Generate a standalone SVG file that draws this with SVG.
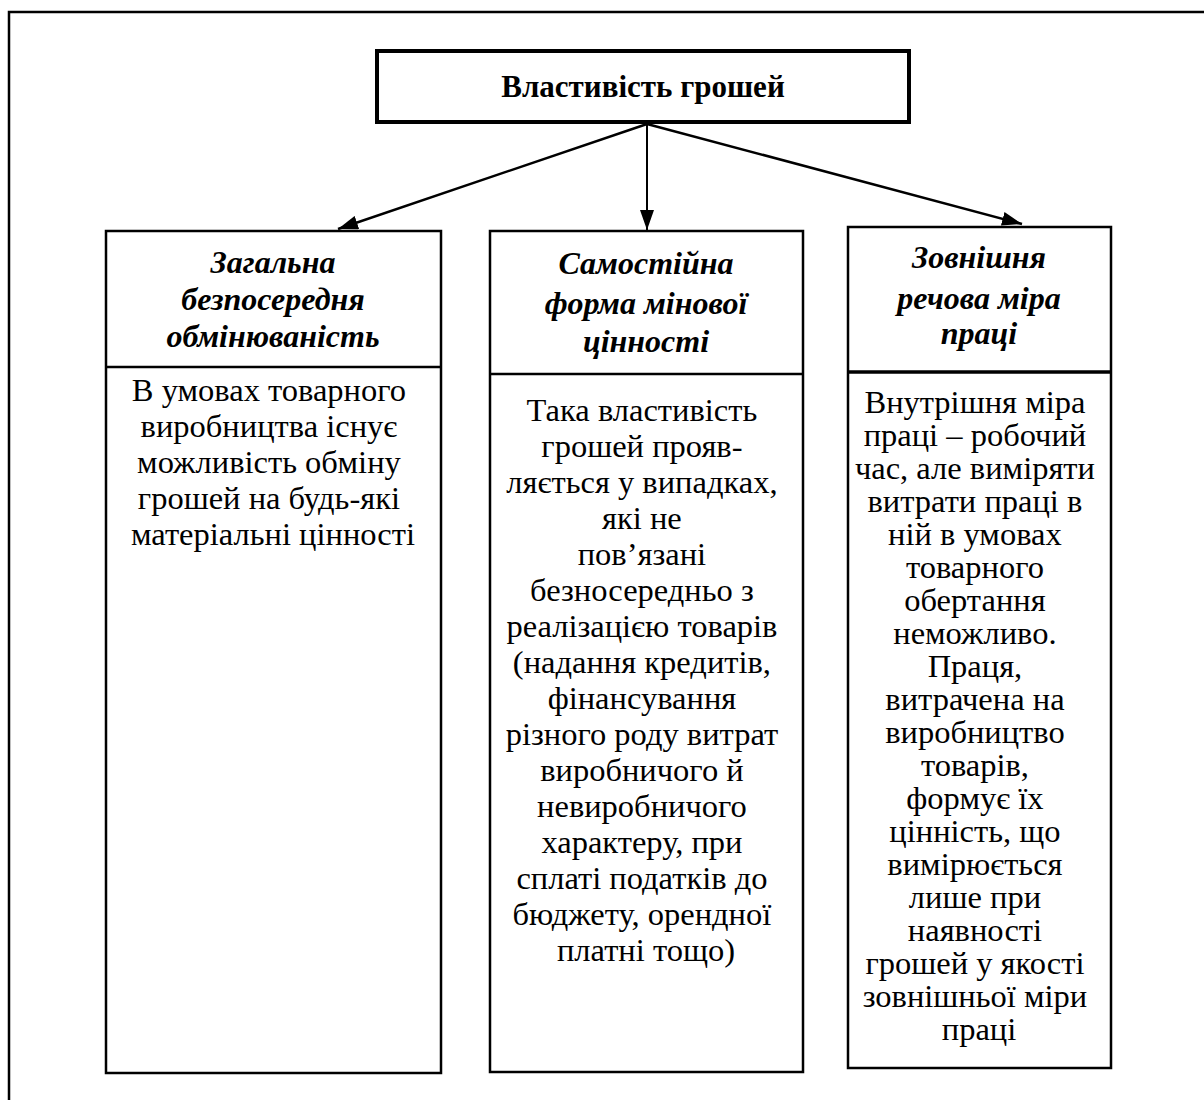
<svg xmlns="http://www.w3.org/2000/svg" width="1204" height="1100" viewBox="0 0 1204 1100">
  <style>
    .frame { fill: none; stroke: #000; stroke-width: 2.5; }
    .box { fill: #fff; stroke: #000; stroke-width: 2.5; }
    .root { fill: #fff; stroke: #000; stroke-width: 4; }
    .div { stroke: #000; stroke-width: 2.5; }
    .link { stroke: #000; stroke-width: 2.5; fill: none; }
    text { font-family: "Liberation Serif", "Times New Roman", serif; fill: #000; text-anchor: middle; }
    .title { font-size: 31px; font-weight: bold; }
    .head { font-size: 32px; font-weight: bold; font-style: italic; }
    .body { font-size: 32.5px; }
  </style>
  <defs>
    <marker id="arrowhead" viewBox="0 0 20 14" refX="20" refY="7" markerWidth="20" markerHeight="14" markerUnits="userSpaceOnUse" orient="auto">
      <path d="M0,0 L20,7 L0,14 Z" fill="#000"/>
    </marker>
  </defs>

  <!-- outer frame: open at the bottom and on the right -->
  <path class="frame" d="M9,1100 V12 H1204"/>

  <g id="root">
    <rect class="root" x="377" y="51" width="532" height="71"/>
    <text class="title" x="643" y="97">Властивість грошей</text>
  </g>

  <g id="connectors">
    <line class="link" x1="647" y1="124" x2="338" y2="229" marker-end="url(#arrowhead)"/>
    <line class="link" x1="647" y1="124" x2="647" y2="230" marker-end="url(#arrowhead)" style="stroke-width:2"/>
    <line class="link" x1="647" y1="124" x2="1022" y2="224" marker-end="url(#arrowhead)"/>
  </g>

  <g id="node-exchange">
    <rect class="box" x="106" y="231" width="335" height="842"/>
    <line class="div" x1="106" y1="367" x2="441" y2="367"/>
    <text class="head" x="273" y="273">Загальна</text>
    <text class="head" x="273" y="310">безпосередня</text>
    <text class="head" x="273" y="347">обмінюваність</text>
    <text class="body">
      <tspan x="273" y="401">В умовах товарного</tspan>
      <tspan x="273" y="437">виробництва існує</tspan>
      <tspan x="273" y="473">можливість обміну</tspan>
      <tspan x="273" y="509">грошей на будь-які</tspan>
      <tspan x="273" y="545">матеріальні цінності</tspan>
    </text>
  </g>

  <g id="node-value-form">
    <rect class="box" x="490" y="231" width="313" height="841"/>
    <line class="div" x1="490" y1="374" x2="803" y2="374"/>
    <text class="head" x="646" y="274">Самостійна</text>
    <text class="head" x="646" y="314">форма мінової</text>
    <text class="head" x="646" y="352">цінності</text>
    <text class="body">
      <tspan x="646" y="421">Така властивість</tspan>
      <tspan x="646" y="457">грошей прояв-</tspan>
      <tspan x="646" y="493">ляється у випадках,</tspan>
      <tspan x="646" y="529">які не</tspan>
      <tspan x="646" y="565">пов’язані</tspan>
      <tspan x="646" y="601">безносередньо з</tspan>
      <tspan x="646" y="637">реалізацією товарів</tspan>
      <tspan x="646" y="673">(надання кредитів,</tspan>
      <tspan x="646" y="709">фінансування</tspan>
      <tspan x="646" y="745">різного роду витрат</tspan>
      <tspan x="646" y="781">виробничого й</tspan>
      <tspan x="646" y="817">невиробничого</tspan>
      <tspan x="646" y="853">характеру, при</tspan>
      <tspan x="646" y="889">сплаті податків до</tspan>
      <tspan x="646" y="925">бюджету, орендної</tspan>
      <tspan x="646" y="961">платні тощо)</tspan>
    </text>
  </g>

  <g id="node-labour-measure">
    <rect class="box" x="848" y="227" width="263" height="841"/>
    <line class="div" x1="848" y1="372" x2="1112" y2="372" style="stroke-width:3.5"/>
    <text class="head" x="979" y="268">Зовнішня</text>
    <text class="head" x="979" y="309">речова міра</text>
    <text class="head" x="979" y="344">праці</text>
    <text class="body">
      <tspan x="979" y="413">Внутрішня міра</tspan>
      <tspan x="979" y="446">праці – робочий</tspan>
      <tspan x="979" y="479">час, але виміряти</tspan>
      <tspan x="979" y="512">витрати праці в</tspan>
      <tspan x="979" y="545">ній в умовах</tspan>
      <tspan x="979" y="578">товарного</tspan>
      <tspan x="979" y="611">обертання</tspan>
      <tspan x="979" y="644">неможливо.</tspan>
      <tspan x="979" y="677">Праця,</tspan>
      <tspan x="979" y="710">витрачена на</tspan>
      <tspan x="979" y="743">виробництво</tspan>
      <tspan x="979" y="776">товарів,</tspan>
      <tspan x="979" y="809">формує їх</tspan>
      <tspan x="979" y="842">цінність, що</tspan>
      <tspan x="979" y="875">вимірюється</tspan>
      <tspan x="979" y="908">лише при</tspan>
      <tspan x="979" y="941">наявності</tspan>
      <tspan x="979" y="974">грошей у якості</tspan>
      <tspan x="979" y="1007">зовнішньої міри</tspan>
      <tspan x="979" y="1040">праці</tspan>
    </text>
  </g>
</svg>
